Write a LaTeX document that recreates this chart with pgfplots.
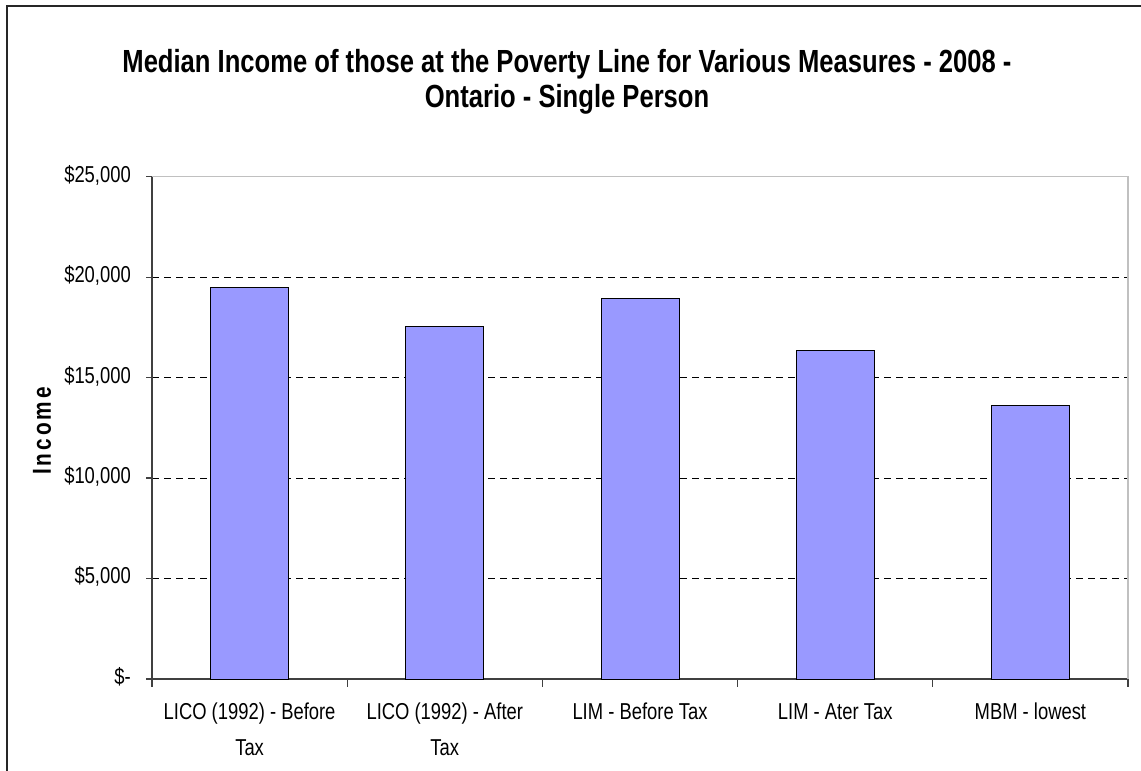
\documentclass[border=0pt]{standalone}
\usepackage{pgfplots}
\pgfplotsset{compat=1.18}
\usepackage{fontspec}
\setmainfont[FakeStretch=0.8]{Liberation Sans}
\definecolor{barfill}{HTML}{9999FF}
\definecolor{bordergray}{HTML}{C0C0C0}
\begin{document}
\begin{tikzpicture}[x=1pt,y=1pt]
\useasboundingbox (0,0) rectangle (1141,771);
\draw[line width=1.5pt, black!85] (7,0) -- (7,765) -- (1141,765);
\node[font=\fontsize{32}{36}\selectfont\bfseries, anchor=base] at (567,698) {Median Income of those at the Poverty Line for Various Measures - 2008 -};
\node[font=\fontsize{32}{36}\selectfont\bfseries, anchor=base] at (567,663) {Ontario - Single Person};
\node[rotate=90, font=\fontsize{26}{30}\selectfont\bfseries] at (42,340) {I\hspace{3pt}n\hspace{3pt}c\hspace{3pt}o\hspace{3pt}m\hspace{3pt}e};
\begin{axis}[
  at={(152pt,92pt)}, anchor=south west,
  scale only axis, width=976pt, height=502.3pt,
  xmin=-0.5, xmax=4.5, ymin=0, ymax=25000,
  ybar, bar width=78pt,
  axis x line*=bottom, axis y line*=left,
  axis line style={black!75, line width=1.2pt},
  tick align=outside,
  scaled y ticks=false,
  ytick={0,5000,10000,15000,20000,25000},
  yticklabels={{\$-},{\$5,000},{\$10,000},{\$15,000},{\$20,000},{\$25,000}},
  xtick={0,1,2,3,4},
  xticklabels={{LICO (1992) - Before\\Tax},{LICO (1992) - After\\Tax},{LIM - Before Tax},{LIM - Ater Tax},{MBM - lowest}},
  minor xtick={-0.5,0.5,1.5,2.5,3.5,4.5},
  major x tick style={draw=none},
  minor x tick style={black!75, line width=1.2pt},
  y tick style={black!75, line width=1.2pt},
  major tick length=6pt, minor tick length=8pt,
  ymajorgrids,
  major y grid style={black, dash pattern=on 7pt off 5pt, line width=0.9pt},
  /pgf/number format/assume math mode=true,
  typeset ticklabels with strut,
  yticklabel style={font=\fontsize{23}{27}\selectfont, inner sep=0pt, xshift=-15pt},
  xticklabel style={font=\fontsize{23}{36}\selectfont, align=center, anchor=north, yshift=-6pt},
  clip=false,
]
\addplot[fill=barfill, draw=black, line width=0.9pt] coordinates {(0,19500) (1,17550) (2,18930) (3,16370) (4,13630)};
\draw[bordergray, line width=1.2pt] (rel axis cs:0,1) -- (rel axis cs:1,1) -- (rel axis cs:1,0);
\end{axis}
\end{tikzpicture}
\end{document}
